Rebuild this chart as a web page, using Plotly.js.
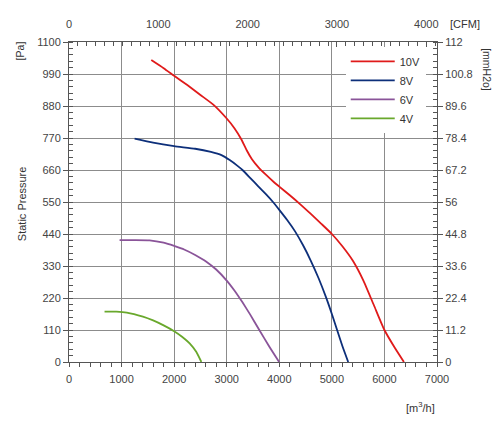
<!DOCTYPE html>
<html>
<head>
<meta charset="utf-8">
<script src="https://cdn.plot.ly/plotly-3.0.1.min.js"></script>
<style>html,body{margin:0;padding:0;background:#fff;}#chart{width:500px;height:428px;}</style>
</head>
<body>
<div id="chart"></div>
<script>
// Series: airflow [m3/h] vs static pressure [Pa]
const seriesNames = ['10V', '8V', '6V', '4V'];
const flow10V = [1565, 1800, 2000, 2250, 2500, 2750, 3000, 3150, 3280, 3380, 3480, 3600, 3750, 3900, 4000, 4200, 4400, 4600, 4800, 5000, 5200, 5400, 5600, 5800, 6000, 6200, 6371];
const pres10V = [1038, 1010, 984, 952, 918, 884, 837, 803, 765, 728, 697, 670, 643, 618, 603, 573, 542, 509, 475, 440, 398, 348, 280, 195, 110, 48, 0];
const flow8V = [1248, 1600, 2000, 2400, 2700, 2900, 3057, 3200, 3300, 3450, 3600, 3750, 3880, 4000, 4150, 4300, 4450, 4600, 4750, 4890, 5000, 5100, 5200, 5311];
const pres8V = [768, 754, 742, 733, 722, 711, 694, 675, 660, 632, 604, 576, 550, 523, 488, 449, 402, 348, 287, 222, 165, 110, 55, 0];
const flow6V = [962, 1250, 1533, 1800, 2000, 2200, 2400, 2613, 2800, 3000, 3150, 3300, 3450, 3620, 3800, 3997];
const pres6V = [419, 419, 418, 410, 399, 386, 368, 345, 318, 280, 245, 205, 162, 110, 56, 0];
const flow4V = [676, 900, 1100, 1406, 1600, 1800, 2000, 2150, 2295, 2420, 2518];
const pres4V = [173, 173, 170, 156, 143, 126, 106, 87, 64, 35, 0];

// Axis ranges and tick labels
const flowRange = [0, 7000];
const cfmRange = [0, 4120];
const paRange = [0, 1100];
const mmRange = [0, 112];
const mmTickVals = [0, 11.2, 22.4, 33.6, 44.8, 56, 67.2, 78.4, 89.6, 100.8, 112];
const mmTickText = ['0', '11.2', '22.4', '33.6', '44.8', '56', '67.2', '78.4', '89.6', '100.8', '112'];

const colors = ['#e01a1a', '#0d2f7a', '#8a5499', '#69a82c'];
const flows = [flow10V, flow8V, flow6V, flow4V];
const pres = [pres10V, pres8V, pres6V, pres4V];

const traces = seriesNames.map((n, i) => ({
  x: flows[i], y: pres[i], name: n, type: 'scatter', mode: 'lines',
  line: {color: colors[i], width: 1.8, shape: 'spline', smoothing: 0.5},
  hoverinfo: 'skip'
}));
// invisible helper trace to activate the secondary (top/right) axes
traces.push({x: cfmRange, y: mmRange, xaxis: 'x2', yaxis: 'y2', mode: 'markers',
  marker: {opacity: 0}, showlegend: false, hoverinfo: 'skip'});

const fam = 'Liberation Sans, Arial, sans-serif';
const tickFont = {family: fam, size: 11, color: '#444'};
const lineCol = '#555';
const gridCol = '#8c8c8c';

const layout = {
  width: 500, height: 428,
  margin: {l: 69, r: 63, t: 42, b: 66},
  paper_bgcolor: '#fff', plot_bgcolor: '#fff',
  font: tickFont,
  showlegend: true,
  legend: {x: 0.752, xanchor: 'left', y: 0.985, yanchor: 'top', bgcolor: 'rgba(255,255,255,1)',
    itemwidth: 44, font: {family: fam, size: 11, color: '#333'}, tracegroupgap: 0},
  xaxis: {range: flowRange, dtick: 1000, tick0: 0, showgrid: true, gridcolor: gridCol, gridwidth: 1,
    zeroline: false, showline: true, linecolor: lineCol, linewidth: 1, mirror: false,
    ticks: 'outside', ticklen: 4, tickcolor: lineCol, tickfont: tickFont, ticklabelstandoff: 3,
    minor: {dtick: 200, ticks: 'outside', ticklen: 4, tickcolor: lineCol, showgrid: false}},
  xaxis2: {range: cfmRange, overlaying: 'x', side: 'top', dtick: 1000, tick0: 0, showgrid: false,
    zeroline: false, showline: true, linecolor: lineCol, linewidth: 1,
    ticks: 'inside', ticklen: 5, tickcolor: lineCol, tickfont: tickFont, ticklabelstandoff: 9,
    minor: {dtick: 100, ticks: 'inside', ticklen: 4, tickcolor: lineCol, showgrid: false}},
  yaxis: {range: paRange, dtick: 110, tick0: 0, showgrid: true, gridcolor: gridCol, gridwidth: 1,
    zeroline: false, showline: true, linecolor: lineCol, linewidth: 1,
    ticks: 'outside', ticklen: 5, tickcolor: lineCol, tickfont: tickFont,
    minor: {dtick: 22, ticks: 'inside', ticklen: 4, tickcolor: lineCol, showgrid: false}},
  yaxis2: {range: mmRange, overlaying: 'y', side: 'right', tickvals: mmTickVals, ticktext: mmTickText,
    showgrid: false, zeroline: false, showline: true, linecolor: lineCol, linewidth: 1,
    ticks: 'outside', ticklen: 5, tickcolor: lineCol, tickfont: tickFont,
    minor: {dtick: 2.24, ticks: 'inside', ticklen: 4, tickcolor: lineCol, showgrid: false}},
  annotations: [
    {text: 'Static Pressure', xref: 'paper', yref: 'paper', x: -0.127, y: 0.494, xanchor: 'center', yanchor: 'middle', textangle: -90,
      showarrow: false, font: {family: fam, size: 11, color: '#333'}},
    {text: '[Pa]', xref: 'paper', yref: 'paper', x: -0.132, y: 0.972, xanchor: 'center', yanchor: 'middle', textangle: -90,
      showarrow: false, font: {family: fam, size: 10.5, color: '#333'}},
    {text: '[mmH2o]', xref: 'paper', yref: 'paper', x: 1.135, y: 0.913, xanchor: 'center', yanchor: 'middle', textangle: 90,
      showarrow: false, font: {family: fam, size: 10.5, color: '#333'}},
    {text: '[CFM]', xref: 'paper', yref: 'paper', x: 1.03, y: 1.056, xanchor: 'left', yanchor: 'middle',
      showarrow: false, font: {family: fam, size: 11, color: '#333'}},
    {text: '[m<sup>3</sup>/h]', xref: 'paper', yref: 'paper', x: 0.954, y: -0.14, xanchor: 'center', yanchor: 'middle',
      showarrow: false, font: {family: fam, size: 11, color: '#333'}}
  ]
};

Plotly.newPlot('chart', traces, layout, {staticPlot: true, displayModeBar: false});
</script>
</body>
</html>
